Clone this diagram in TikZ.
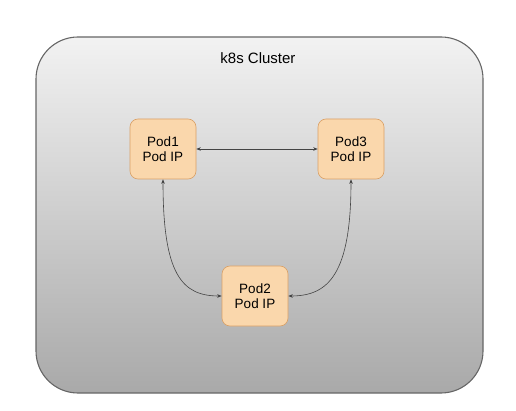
\documentclass[tikz,border=0pt]{standalone}
\usepackage{fontspec}
\setmainfont{Liberation Sans}
\usetikzlibrary{arrows.meta,positioning}
\definecolor{podfill}{HTML}{FAD7AC}
\definecolor{poddraw}{HTML}{D9A066}
\definecolor{clusdraw}{HTML}{666666}
\definecolor{clustop}{HTML}{F2F2F2}
\definecolor{clusbot}{HTML}{A9A9A9}
\definecolor{linkcol}{HTML}{444444}

\begin{document}
\begin{tikzpicture}[
  x=1pt,y=-1pt,
  every node/.style={font=\fontsize{13.5}{15.5}\selectfont},
  clus/.style={draw=clusdraw,line width=1.1pt,rounded corners=42pt,
               top color=clustop,bottom color=clusbot,
               minimum width=447pt,minimum height=356pt,inner sep=0pt},
  pod/.style={draw=poddraw,line width=0.6pt,rounded corners=8pt,
              fill=podfill,minimum width=66pt,minimum height=60pt,
              align=center,inner sep=0pt},
  lk/.style={{Stealth[length=4.5pt,width=3.5pt]}-{Stealth[length=4.5pt,width=3.5pt]},
             linkcol,line width=0.6pt}
]
\useasboundingbox (0,0) rectangle (516,411);
\node[clus](K) at (259.5,215){};
\node[font=\fontsize{15}{17}\selectfont](T) at (258,58){k8s Cluster};

\node[pod](P1) at (163,149){Pod1\\Pod IP};
\node[pod](P3) at (351,149){Pod3\\Pod IP};
\node[pod](P2) at (255,296){Pod2\\Pod IP};

\draw[lk](P1.east)--(P3.west);
\draw[lk](P1.south) .. controls +(0,95) and +(-40,0) .. (P2.west);
\draw[lk](P3.south) .. controls +(0,95) and +(40,0) .. (P2.east);
\end{tikzpicture}
\end{document}
